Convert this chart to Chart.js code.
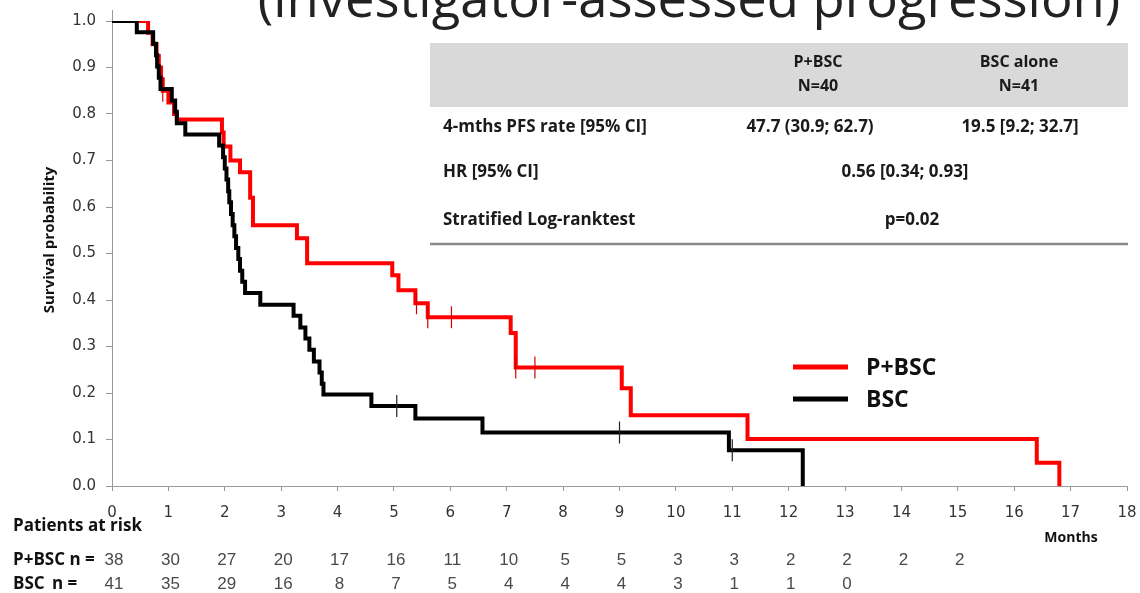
<!DOCTYPE html>
<html><head><meta charset="utf-8">
<script src="https://cdn.jsdelivr.net/npm/chart.js@4/dist/chart.umd.min.js"></script>
<style>html,body{margin:0;padding:0;background:#fff}#wrap{width:1140px;height:593px;position:relative}</style>
</head><body><div id="wrap"><canvas id="c" width="1140" height="593"></canvas></div>
<script>
// ---- data ----
const titleText = "(investigator-assessed progression)";
const seriesNames = ["P+BSC", "BSC"];
const yAxisTitle = "Survival probability";
const xAxisTitle = "Months";
const monthTicks = [0,1,2,3,4,5,6,7,8,9,10,11,12,13,14,15,16,17,18];

const redTimes = [0, 0.64, 0.72, 0.79, 0.83, 0.87, 0.9, 1.0, 1.1, 1.15, 1.95, 1.98, 2.1, 2.27, 2.45, 2.5, 3.28, 3.46, 4.97, 5.08, 5.38, 5.6, 7.07, 7.16, 9.04, 9.2, 11.27, 16.4, 16.8];
const redSurv  = [1, 0.975, 0.95, 0.925, 0.9, 0.875, 0.85, 0.825, 0.8, 0.788, 0.76, 0.73, 0.70, 0.675, 0.62, 0.561, 0.533, 0.479, 0.453, 0.421, 0.393, 0.363, 0.329, 0.255, 0.21, 0.152, 0.101, 0.05, 0];
const redCensorT = [0.9, 5.4, 5.6, 6.02, 7.16, 7.5];
const redCensorS = [0.85, 0.393, 0.363, 0.363, 0.255, 0.255];

const blackTimes = [0, 0.44, 0.73, 0.78, 0.8, 0.83, 0.86, 1.06, 1.12, 1.15, 1.3, 1.9, 1.97, 2.0, 2.03, 2.06, 2.08, 2.11, 2.14, 2.17, 2.2, 2.24, 2.27, 2.31, 2.36, 2.63, 3.22, 3.34, 3.43, 3.5, 3.58, 3.68, 3.72, 3.75, 4.6, 5.38, 6.57, 10.94, 12.25];
const blackSurv  = [1, 0.976, 0.951, 0.927, 0.902, 0.878, 0.854, 0.829, 0.805, 0.78, 0.756, 0.732, 0.707, 0.683, 0.659, 0.634, 0.61, 0.585, 0.561, 0.537, 0.512, 0.488, 0.463, 0.439, 0.415, 0.39, 0.366, 0.341, 0.317, 0.293, 0.268, 0.244, 0.22, 0.197, 0.172, 0.145, 0.115, 0.077, 0];
const blackCensorT = [5.05, 9.0, 11.0];
const blackCensorS = [0.172, 0.115, 0.077];

const riskRed   = [38, 30, 27, 20, 17, 16, 11, 10, 5, 5, 3, 3, 2, 2, 2, 2];
const riskBlack = [41, 35, 29, 16, 8, 7, 5, 4, 4, 4, 3, 1, 1, 0];

const tableHeader = [["P+BSC", "N=40"], ["BSC alone", "N=41"]];
const tableRowLabels = ["4-mths PFS rate [95% CI]", "HR [95% CI]", "Stratified Log-ranktest"];
const tableRowValues = [["47.7 (30.9; 62.7)", "19.5 [9.2; 32.7]"], ["0.56 [0.34; 0.93]"], ["p=0.02"]];

// ---- build ----
const RED = '#ff0000', BLACK = '#000000';
const zip = (t, s) => t.map((x, i) => ({x: x, y: s[i]}));

const overlay = {
  id: 'overlay',
  afterDraw(chart) {
    const ctx = chart.ctx;
    const xs = chart.scales.x;
    const ca = chart.chartArea;
    ctx.save();
    // y-axis extension above 1.0
    ctx.strokeStyle = '#999'; ctx.lineWidth = 1;
    ctx.beginPath(); ctx.moveTo(ca.left + 0.5, ca.top); ctx.lineTo(ca.left + 0.5, ca.top - 11); ctx.stroke();

    // Title (cut at top)
    ctx.fillStyle = '#222';
    let fs = 50;
    ctx.font = fs + 'px "Open Sans"';
    const w = ctx.measureText(titleText).width;
    fs = fs * 862 / w;
    ctx.font = fs.toFixed(1) + 'px "Open Sans"';
    ctx.textAlign = 'center'; ctx.textBaseline = 'alphabetic';
    ctx.fillText(titleText, 689, 17);

    // Table
    ctx.fillStyle = '#d9d9d9';
    ctx.fillRect(430, 43, 698, 64);
    ctx.fillStyle = '#1a1a1a';
    ctx.font = 'bold 16px "Open Sans"';
    ctx.textBaseline = 'middle';
    ctx.textAlign = 'center';
    const colX = [818, 1019];
    tableHeader.forEach((h, i) => { ctx.fillText(h[0], colX[i], 62); ctx.fillText(h[1], colX[i], 86); });
    const rowY = [127, 172, 220];
    ctx.font = 'bold 17px "Open Sans"';
    ctx.textAlign = 'left';
    tableRowLabels.forEach((l, i) => ctx.fillText(l, 443, rowY[i]));
    ctx.textAlign = 'center';
    ctx.fillText(tableRowValues[0][0], 810, rowY[0]);
    ctx.fillText(tableRowValues[0][1], 1020, rowY[0]);
    ctx.fillText(tableRowValues[1][0], 905, rowY[1]);
    ctx.fillText(tableRowValues[2][0], 912, rowY[2]);
    ctx.strokeStyle = '#8a8a8a'; ctx.lineWidth = 2.5;
    ctx.beginPath(); ctx.moveTo(430, 244); ctx.lineTo(1128, 244); ctx.stroke();

    // Legend
    const legY = [367, 399], legCol = [RED, BLACK];
    seriesNames.forEach((n, i) => {
      ctx.strokeStyle = legCol[i]; ctx.lineWidth = 5;
      ctx.beginPath(); ctx.moveTo(793, legY[i]); ctx.lineTo(848, legY[i]); ctx.stroke();
      ctx.fillStyle = '#111'; ctx.font = 'bold 23px "Open Sans"'; ctx.textAlign = 'left';
      ctx.fillText(n, 866, legY[i] + 1);
    });

    // Y axis title
    ctx.save();
    ctx.translate(50, 240); ctx.rotate(-Math.PI / 2);
    ctx.font = 'bold 15px "Open Sans"'; ctx.textAlign = 'center'; ctx.fillStyle = '#111';
    ctx.fillText(yAxisTitle, 0, 0);
    ctx.restore();

    // Months label
    ctx.font = 'bold 14px "Open Sans"'; ctx.textAlign = 'center'; ctx.fillStyle = '#111';
    ctx.fillText(xAxisTitle, 1071, 538);

    // Patients at risk
    ctx.textAlign = 'left';
    ctx.font = 'bold 17px "Open Sans"';
    ctx.fillText('Patients at risk', 13, 526);
    ctx.fillText(seriesNames[0] + ' n =', 13, 560);
    ctx.fillText(seriesNames[1], 13, 584);
    ctx.fillText('n =', 52, 584);
    ctx.font = '17px "Liberation Sans"'; ctx.fillStyle = '#4a4a4a'; ctx.textAlign = 'center';
    riskRed.forEach((v, i) => ctx.fillText(String(v), xs.getPixelForValue(monthTicks[i]) + 2, 560));
    riskBlack.forEach((v, i) => ctx.fillText(String(v), xs.getPixelForValue(monthTicks[i]) + 2, 584));
    ctx.restore();
  }
};

new Chart(document.getElementById('c'), {
  type: 'line',
  data: {
    datasets: [
      { label: seriesNames[1], data: zip(blackTimes, blackSurv), borderColor: BLACK, borderWidth: 4, stepped: true, pointRadius: 0, fill: false, order: 1 },
      { label: seriesNames[0], data: zip(redTimes, redSurv), borderColor: RED, borderWidth: 4, stepped: true, pointRadius: 0, fill: false, order: 3 },
      { type: 'scatter', label: 'censor-b', data: zip(blackCensorT, blackCensorS), borderColor: '#222', borderWidth: 1.2, pointStyle: 'line', rotation: 90, pointRadius: 11, showLine: false, order: 0 },
      { type: 'scatter', label: 'censor-r', data: zip(redCensorT, redCensorS), borderColor: '#d00000', borderWidth: 1.2, pointStyle: 'line', rotation: 90, pointRadius: 11, showLine: false, order: 2 }
    ]
  },
  options: {
    responsive: false, animation: false, devicePixelRatio: 1,
    layout: { padding: { top: 21, left: 0, right: 13, bottom: 0 } },
    plugins: { legend: { display: false }, tooltip: { enabled: false }, title: { display: false } },
    scales: {
      x: {
        type: 'linear', min: 0, max: 18,
        afterFit: (a) => { a.height = 107; a.paddingLeft = 0; a.paddingRight = 0; },
        afterBuildTicks: (a) => { a.ticks = monthTicks.map(v => ({ value: v })); },
        ticks: { font: { family: 'DejaVu Sans', size: 15 }, color: '#333', padding: 13, maxRotation: 0, autoSkip: false },
        grid: { display: true, drawOnChartArea: false, drawTicks: true, tickLength: 5, color: '#999' },
        border: { color: '#999', width: 1 }
      },
      y: {
        min: 0, max: 1,
        afterFit: (a) => { a.width = 112; a.paddingTop = 0; a.paddingBottom = 0; },
        ticks: { stepSize: 0.1, callback: (v) => Number(v).toFixed(1), font: { family: 'DejaVu Sans', size: 15 }, color: '#333', padding: 10 },
        grid: { display: true, drawOnChartArea: false, drawTicks: true, tickLength: 6, color: '#999' },
        border: { color: '#999', width: 1 }
      }
    }
  },
  plugins: [overlay]
});
</script>
</body></html>
